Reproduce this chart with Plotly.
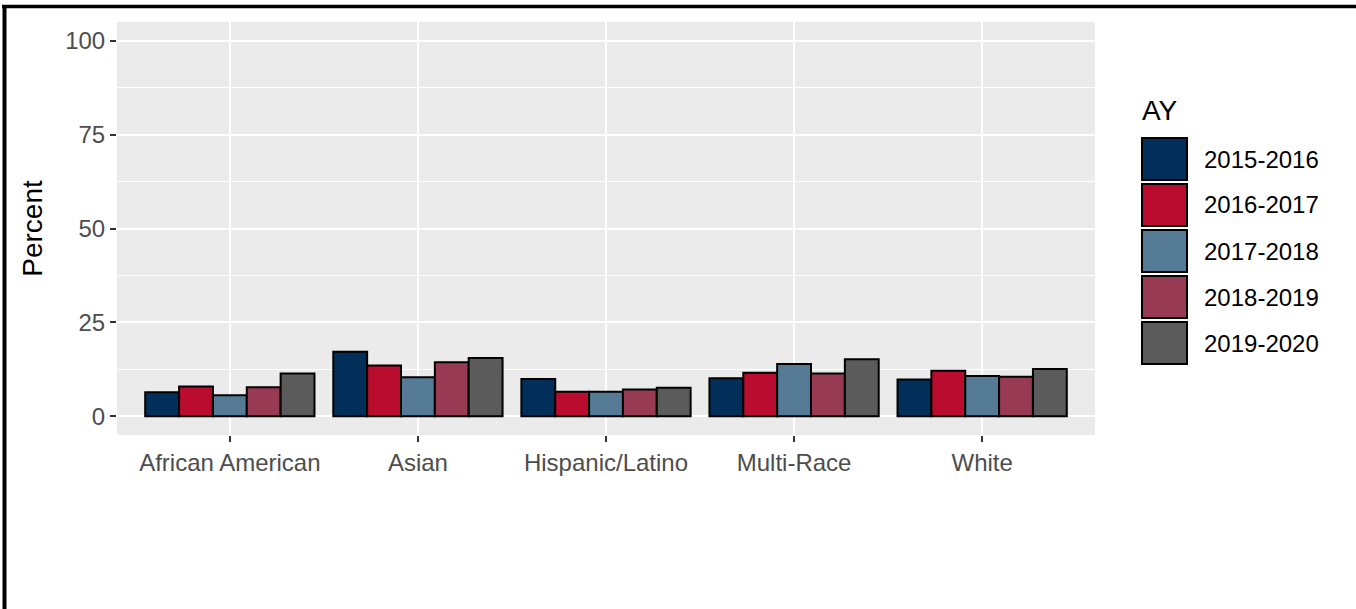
import plotly.graph_objects as go

categories = ["African American", "Asian", "Hispanic/Latino", "Multi-Race", "White"]
years = ["2015-2016", "2016-2017", "2017-2018", "2018-2019", "2019-2020"]
values = {
    "2015-2016": [6.4, 17.2, 9.9, 10.1, 9.8],
    "2016-2017": [7.9, 13.5, 6.5, 11.6, 12.1],
    "2017-2018": [5.6, 10.4, 6.5, 13.9, 10.7],
    "2018-2019": [7.7, 14.4, 7.1, 11.4, 10.5],
    "2019-2020": [11.4, 15.5, 7.6, 15.2, 12.6],
}
colors = ["#022F59", "#BA0C2F", "#557A95", "#983A54", "#5B5B5B"]
y_ticks = [0, 25, 50, 75, 100]

FONT = "Liberation Sans, Arial, sans-serif"
W, H = 1356, 609
ML, MR, MT, MB = 117, 261, 22, 174
PW, PH = W - ML - MR, H - MT - MB

def px(x):
    return (x - ML) / PW

def py(y):
    return (H - MB - y) / PH

fig = go.Figure()
for yr, col in zip(years, colors):
    fig.add_trace(go.Bar(
        x=categories, y=values[yr], name=yr, showlegend=False,
        marker=dict(color=col, line=dict(color="black", width=2)),
    ))

shapes = []
annotations = []
# outer frame lines (top and left)
shapes.append(dict(type="line", xref="paper", yref="paper",
                   x0=px(2), x1=px(1360), y0=py(6.5), y1=py(6.5),
                   line=dict(color="black", width=3.5)))
shapes.append(dict(type="line", xref="paper", yref="paper",
                   x0=px(4.5), x1=px(4.5), y0=py(5), y1=py(615),
                   line=dict(color="black", width=4)))

# custom legend
annotations.append(dict(xref="paper", yref="paper", x=px(1140), y=py(110),
                        xanchor="left", yanchor="middle", text="AY", showarrow=False,
                        font=dict(family=FONT, size=28, color="black")))
key_top = 137
key_h = 46
for i, (yr, col) in enumerate(zip(years, colors)):
    t = key_top + i * key_h
    shapes.append(dict(type="rect", xref="paper", yref="paper",
                       x0=px(1142), x1=px(1187), y0=py(t + 43), y1=py(t + 1),
                       fillcolor=col, line=dict(color="black", width=2)))
    annotations.append(dict(xref="paper", yref="paper", x=px(1202), y=py(t + 22),
                            xanchor="left", yanchor="middle", text=yr, showarrow=False,
                            font=dict(family=FONT, size=24, color="black")))

fig.update_layout(
    width=W, height=H,
    margin=dict(l=ML, r=MR, t=MT, b=MB, pad=0),
    paper_bgcolor="white", plot_bgcolor="#EBEBEB",
    barmode="group", bargap=0.1, bargroupgap=0,
    font=dict(family=FONT, size=24, color="#4D4D4D"),
    shapes=shapes, annotations=annotations,
    showlegend=False,
    xaxis=dict(
        type="category", range=[-0.6, len(categories) - 0.4],
        showgrid=True, gridcolor="white", gridwidth=2,
        ticks="outside", ticklen=6, tickwidth=2, tickcolor="#333333",
        tickfont=dict(family=FONT, size=24, color="#4D4D4D"),
        showline=False, zeroline=False,
    ),
    yaxis=dict(
        range=[-5, 105], tickvals=y_ticks, ticktext=[str(v) for v in y_ticks],
        showgrid=True, gridcolor="white", gridwidth=2,
        minor=dict(dtick=12.5, tick0=0, showgrid=True, gridcolor="white", gridwidth=1),
        ticks="outside", ticklen=6, tickwidth=2, tickcolor="#333333",
        tickfont=dict(family=FONT, size=24, color="#4D4D4D"),
        title=dict(text="Percent", font=dict(family=FONT, size=28, color="black"), standoff=14),
        zeroline=False, showline=False,
    ),
)

fig.write_html("out.html", config={"displayModeBar": False},
               post_script="document.body.style.margin='0';document.body.style.overflow='hidden';")
